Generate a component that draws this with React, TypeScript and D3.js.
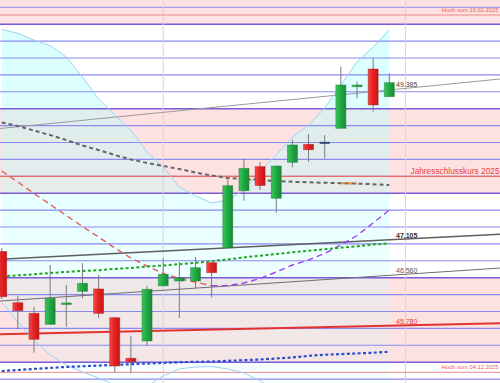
import React from 'react';
import * as d3 from 'd3';

const W = 500;
const H = 383;

// ---- price scale / grid ----
const gridTop = 50.5;
const gridBottom = 45.0;
const gridStep = 0.25;
const zoneLow = [50.25, 47.75, 45.25];
const zoneHigh = [50.7, 49.0, 46.5];

// ---- candles (index 0..24) ----
const candleOpen = [46.888, 46.13, 45.973, 45.811, 46.104, 46.299, 46.333, 45.908, 45.308, 45.564, 46.38, 46.451, 46.451, 46.722, 46.944, 47.787, 48.142, 47.675, 48.207, 48.473, 48.495, 48.71, 49.325, 49.587, 49.178];
const candleHigh = [46.94, 46.234, 46.067, 46.688, 46.392, 46.713, 46.54, 45.92, 45.638, 46.38, 46.787, 46.732, 46.806, 46.73, 47.985, 48.266, 48.212, 48.16, 48.537, 48.626, 48.611, 49.621, 49.4, 49.746, 49.524];
const candleLow = [46.185, 45.741, 45.391, 45.8, 45.775, 46.195, 45.908, 45.095, 45.086, 45.49, 46.37, 45.904, 46.348, 46.21, 46.94, 47.639, 47.797, 47.462, 48.133, 48.216, 48.266, 48.71, 49.154, 48.956, 49.178];
const candleClose = [46.219, 46.012, 45.589, 46.195, 46.126, 46.417, 45.973, 45.194, 45.257, 46.328, 46.55, 46.496, 46.648, 46.574, 47.861, 48.118, 47.864, 48.152, 48.463, 48.393, 48.495, 49.351, 49.35, 49.055, 49.385];

// ---- bollinger band ----
const bandUpper = [50.172, 50.115, 50.016, 49.935, 49.765, 49.469, 49.143, 48.907, 48.685, 48.359, 48.138, 47.842, 47.709, 47.605, 47.649, 47.797, 48.078, 48.315, 48.581, 48.759, 49.01, 49.351, 49.691, 49.913, 50.164];
const bandMiddle = [48.078, 47.916, 47.746, 47.583, 47.42, 47.257, 47.102, 46.939, 46.791, 46.673, 46.562, 46.488, 46.436, 46.38, 46.385, 46.422, 46.488, 46.584, 46.688, 46.762, 46.858, 46.984, 47.124, 47.309, 47.501];
const bandLower = [46.141, 45.845, 45.578, 45.356, 45.208, 45.105, 45.016, 44.913, 44.824, 44.898, 45.046, 45.15, 45.179, 45.186, 45.15, 45.091, 44.973, 44.84, 44.66, 44.48, 44.28, 44.05, 43.8, 43.6, 43.4];

// ---- moving averages ----
const smaGray = [48.797, 48.744, 48.677, 48.61, 48.537, 48.456, 48.389, 48.315, 48.249, 48.197, 48.152, 48.108, 48.056, 48.012, 47.975, 47.96, 47.945, 47.93, 47.919, 47.911, 47.904, 47.898, 47.892, 47.883, 47.871];
const smaGrayHighlight = [21];
const smaGreen = [46.52, 46.535, 46.55, 46.57, 46.585, 46.6, 46.61, 46.63, 46.645, 46.665, 46.68, 46.7, 46.72, 46.745, 46.77, 46.8, 46.825, 46.85, 46.875, 46.9, 46.92, 46.945, 46.965, 46.99, 47.01];
const smaBlue = [45.12, 45.135, 45.15, 45.165, 45.18, 45.19, 45.2, 45.21, 45.22, 45.23, 45.24, 45.25, 45.255, 45.26, 45.27, 45.28, 45.29, 45.305, 45.32, 45.345, 45.36, 45.37, 45.38, 45.39, 45.405];

// ---- trend lines (index, value at both ends) ----
const trendIdx = [-0.105, 30.85];
const trendUpper = [48.707, 49.439];
const trendDark = [46.772, 47.142];
const trendGray = [46.155, 46.643];
const trendRed = [45.663, 45.825];
const trendLabels = ['47.105', '46.560', '45.780'];

// ---- horizontal marks ----
const yearClose = 48.0;
const yearCloseLabel = 'Jahresschlusskurs 2025';
const highLevels = [50.386, 45.1];
const highLabels = ['Hoch vom 10.02.2025', 'Hoch vom 04.12.2025'];
const separators = [10, 25];
const lastLabel = '49.385';

const FONT = 'Liberation Sans, Arial, sans-serif';

export default function App() {
  const x = d3.scaleLinear().domain([0, 24]).range([1.7, 389.3]);
  const y = d3.scaleLinear().domain([gridBottom, gridTop]).range([379.1, 7.3]);
  const idx = d3.range(candleOpen.length);
  const bodyW = (x(1) - x(0)) * 0.62;

  const grid = d3.range(gridBottom, gridTop + 0.001, gridStep);
  const zoneEdges = [...zoneLow, ...zoneHigh].map((v) => v.toFixed(2));

  const mkLine = (vals: number[], ids: number[]) =>
    d3.line<number>().x((i) => x(i)).y((i) => y(vals[i]))(ids) || '';

  const mkArea = (lo: number[], hi: number[]) =>
    d3
      .area<number>()
      .x((i) => x(i))
      .y0((i) => y(lo[i]))
      .y1((i) => y(hi[i]))(idx) || '';

  // middle line runs by direction
  const midRuns: { color: string; ids: number[] }[] = [];
  for (let i = 0; i < bandMiddle.length - 1; i++) {
    const c = bandMiddle[i + 1] < bandMiddle[i] ? '#e4605c' : '#a040f0';
    const last = midRuns[midRuns.length - 1];
    if (last && last.color === c) last.ids.push(i + 1);
    else midRuns.push({ color: c, ids: [i, i + 1] });
  }

  const trendPath = (vals: number[]) =>
    `M${x(trendIdx[0])},${y(vals[0])}L${x(trendIdx[1])},${y(vals[1])}`;
  const trendAt = (vals: number[], px: number) => {
    const i = x.invert(px);
    const t = (i - trendIdx[0]) / (trendIdx[1] - trendIdx[0]);
    return y(vals[0] + t * (vals[1] - vals[0]));
  };
  const labelX = 396;

  return (
    <div style={{ position: 'fixed', left: 0, top: 0, width: W, height: H }}>
      <svg width={W} height={H} style={{ display: 'block', fontFamily: FONT }}>
        <defs>
          <clipPath id="clip">
            <rect x={0} y={0} width={W} height={H} />
          </clipPath>
          <linearGradient id="gRed" x1="0" x2="1" y1="0" y2="0">
            <stop offset="0" stopColor="#f24a4a" />
            <stop offset="0.45" stopColor="#e62222" />
            <stop offset="1" stopColor="#c81616" />
          </linearGradient>
          <linearGradient id="gGreen" x1="0" x2="1" y1="0" y2="0">
            <stop offset="0" stopColor="#3cc45c" />
            <stop offset="0.45" stopColor="#22aa44" />
            <stop offset="1" stopColor="#178a34" />
          </linearGradient>
          <linearGradient id="gBand" gradientUnits="userSpaceOnUse" x1={0} x2={0} y1={0} y2={H}>
            <stop offset="0" stopColor="rgb(175,255,255)" stopOpacity={0.5} />
            <stop offset="0.45" stopColor="rgb(180,255,255)" stopOpacity={0.36} />
            <stop offset="1" stopColor="rgb(190,255,255)" stopOpacity={0.12} />
          </linearGradient>
        </defs>
        <g clipPath="url(#clip)">
          <rect x={0} y={0} width={W} height={H} fill="#ffffff" />
          {zoneLow.map((lo, k) => (
            <rect key={k} x={0} width={W} y={y(zoneHigh[k])} height={y(lo) - y(zoneHigh[k])} fill="#fee2e2" />
          ))}
          {/* band fill */}
          <path d={mkArea(bandLower, bandUpper)} fill="url(#gBand)" />

          {/* grid */}
          {grid.map((v) => {
            const edge = zoneEdges.includes(v.toFixed(2));
            return (
              <line key={v} x1={0} x2={W} y1={y(v)} y2={y(v)} stroke={edge ? '#7a5ad8' : '#8a8af0'} strokeWidth={edge ? 1.4 : 1.1} />
            );
          })}
          {separators.map((s) => (
            <line key={s} x1={x(s)} x2={x(s)} y1={0} y2={H} stroke="#d9d4d8" strokeWidth={1} />
          ))}

          {/* horizontal red marks */}
          <line x1={0} x2={W} y1={y(yearClose)} y2={y(yearClose)} stroke="#ec6a6a" strokeWidth={1.2} />
          {highLevels.map((v, k) => (
            <line key={k} x1={0} x2={W} y1={y(v)} y2={y(v)} stroke="#f08a8a" strokeWidth={1} />
          ))}

          {/* trend lines */}
          <path d={trendPath(trendUpper)} stroke="#9a9a9a" strokeWidth={1} fill="none" />
          <path d={trendPath(trendDark)} stroke="#5e5e5e" strokeWidth={1.6} fill="none" />
          <path d={trendPath(trendGray)} stroke="#6e6e6e" strokeWidth={1} fill="none" />
          <path d={trendPath(trendRed)} stroke="#e23232" strokeWidth={2} fill="none" />

          {/* band outline */}
          <path d={mkLine(bandUpper, idx)} stroke="#9cd2f4" strokeWidth={1} fill="none" />
          <path d={mkLine(bandLower, idx)} stroke="#9cd2f4" strokeWidth={1} fill="none" />

          {/* moving averages */}
          {midRuns.map((r, k) => (
            <path key={k} d={mkLine(bandMiddle, r.ids)} stroke={r.color} strokeWidth={1.4} strokeDasharray="6 4" fill="none" />
          ))}
          <path d={mkLine(smaGray, idx)} stroke="#666" strokeWidth={2} strokeDasharray="4 3" fill="none" />
          {smaGrayHighlight.map((i) => (
            <path key={i} d={mkLine(smaGray, [i, i + 1])} stroke="#f08a30" strokeWidth={2} strokeDasharray="4 3" fill="none" />
          ))}
          <path d={mkLine(smaGreen, idx)} stroke="#22a622" strokeWidth={2} strokeDasharray="3 2.4" fill="none" />
          <path d={mkLine(smaBlue, idx)} stroke="#2a4ed0" strokeWidth={2.2} strokeDasharray="3 2.4" fill="none" />

          {/* candles */}
          {idx.map((i) => {
            const o = candleOpen[i];
            const c = candleClose[i];
            const up = c > o;
            const flat = c === o;
            const top = y(Math.max(o, c));
            const bot = y(Math.min(o, c));
            const cx = x(i);
            return (
              <g key={i}>
                <line x1={cx} x2={cx} y1={y(candleHigh[i])} y2={y(candleLow[i])} stroke="#7a7a7a" strokeWidth={1} />
                {flat ? (
                  <rect x={cx - bodyW / 2} width={bodyW} y={top - 1} height={2} fill="#34477a" />
                ) : (
                  <rect
                    x={cx - bodyW / 2}
                    width={bodyW}
                    y={top}
                    height={Math.max(bot - top, 1.5)}
                    fill={up ? 'url(#gGreen)' : 'url(#gRed)'}
                    stroke={up ? '#1f7a35' : '#a81c1c'}
                    strokeOpacity={0.55}
                    strokeWidth={0.8}
                  />
                )}
              </g>
            );
          })}

          {/* labels */}
          <text x={labelX} y={y(candleClose[24]) + 4.6} fontSize={7} fill="#444">{lastLabel}</text>
          <text x={labelX} y={trendAt(trendDark, labelX) - 2} fontSize={7} fontWeight="bold" fill="#333">{trendLabels[0]}</text>
          <text x={labelX} y={trendAt(trendGray, labelX) - 2} fontSize={7} fill="#555">{trendLabels[1]}</text>
          <text x={labelX} y={trendAt(trendRed, labelX) - 2} fontSize={7} fill="#e04040">{trendLabels[2]}</text>
          <text x={499.5} y={y(yearClose) - 2.4} fontSize={8.3} textAnchor="end" fill="#ee3c3c">{yearCloseLabel}</text>
        </g>
        {highLevels.map((v, k) => (
          <text key={k} x={498.5} y={y(v) - 3} fontSize={5.8} textAnchor="end" fill="#e85a5a">{highLabels[k]}</text>
        ))}
      </svg>
    </div>
  );
}
